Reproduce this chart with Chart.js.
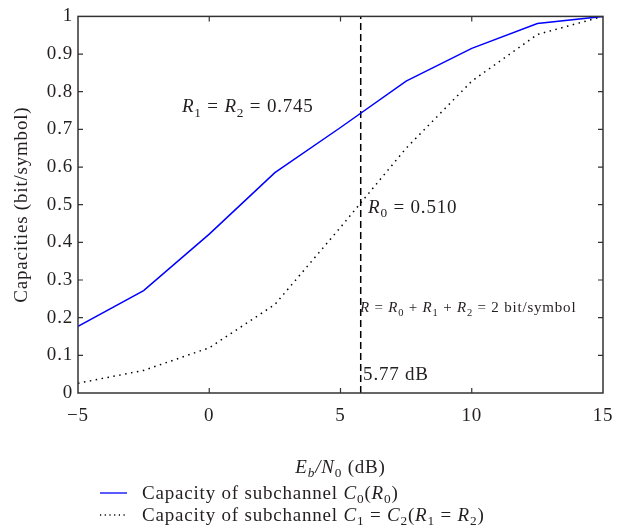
<!DOCTYPE html>
<html>
<head>
<meta charset="utf-8">
<script src="https://cdn.jsdelivr.net/npm/chart.js@4.4.0/dist/chart.umd.min.js"></script>
<style>
  html, body { margin: 0; padding: 0; background: #fff; }
  #wrap { width: 623px; height: 529px; }
</style>
</head>
<body>
<div id="wrap"><canvas id="capacity_graph"></canvas></div>
<script>
// Eb/N0 (dB) sample points
const snr = [-5, -2.5, 0, 2.5, 5, 7.5, 10, 12.5, 15]
// capacity of subchannel C0 (solid blue)
const capC0 = [0.177, 0.272, 0.422, 0.585, 0.705, 0.828, 0.915, 0.981, 1.0]
// capacity of subchannel C1 = C2 (dotted)
const capC1 = [0.026, 0.06, 0.12, 0.235, 0.44, 0.65, 0.828, 0.952, 1.0]
const xTicks = [-5, 0, 5, 10, 15]
const yTicks = [0, 0.1, 0.2, 0.3, 0.4, 0.5, 0.6, 0.7, 0.8, 0.9, 1]
const threshold = 5.77
const rateR0 = 0.510
const rateR1 = 0.745

const serif = '"Liberation Serif", "DejaVu Serif", serif'
const ink = '#231f20'
const spacing = '0.8px'

// draws text made of pieces: 'i' italic, 's' subscript
function rich(ctx, x, y, parts, size, align) {
    let w = 0
    const pieces = parts.map(([t, st]) => {
        const sub = st.includes('s')
        const fs = sub ? size * 0.7 : size
        const font = (st.includes('i') ? 'italic ' : '') + fs + 'px ' + serif
        ctx.font = font
        const tw = ctx.measureText(t).width
        w += tw
        return {t, font, tw, dy: sub ? size * 0.22 : 0}
    })
    if (align === 'center') x -= w / 2
    ctx.textAlign = 'left'
    ctx.textBaseline = 'alphabetic'
    for (const p of pieces) {
        ctx.font = p.font
        ctx.fillText(p.t, x, y + p.dy)
        x += p.tw
    }
}

// wider type, closer to the original figure's font
const spacingPlugin = {
    id: 'spacing',
    beforeLayout(chart) { chart.ctx.letterSpacing = spacing },
    beforeDraw(chart) { chart.ctx.letterSpacing = spacing }
}

const framePlugin = {
    id: 'frame',
    afterDraw(chart) {
        const ctx = chart.ctx
        const a = chart.chartArea
        const xs = chart.scales.x, ys = chart.scales.y
        ctx.save()
        ctx.letterSpacing = spacing
        ctx.strokeStyle = '#333'
        ctx.lineWidth = 1.5
        ctx.strokeRect(a.left, a.top, a.right - a.left, a.bottom - a.top)
        ctx.lineWidth = 1.2
        ctx.beginPath()
        xTicks.slice(1, -1).forEach(v => {
            const px = xs.getPixelForValue(v)
            ctx.moveTo(px, a.bottom); ctx.lineTo(px, a.bottom - 5)
            ctx.moveTo(px, a.top); ctx.lineTo(px, a.top + 5)
        })
        yTicks.slice(1, -1).forEach(v => {
            const py = ys.getPixelForValue(v)
            ctx.moveTo(a.left, py); ctx.lineTo(a.left + 5, py)
            ctx.moveTo(a.right, py); ctx.lineTo(a.right - 5, py)
        })
        ctx.stroke()

        ctx.fillStyle = ink
        const P = (x, y) => [xs.getPixelForValue(x), ys.getPixelForValue(y)]
        let [x, y] = P(-1.04, rateR1)
        rich(ctx, x, y, [['R', 'i'], ['1', 's'], [' = ', ''], ['R', 'i'], ['2', 's'], [' = ' + rateR1.toFixed(3), '']], 19)
        ;[x, y] = P(6.05, 0.479)
        rich(ctx, x, y, [['R', 'i'], ['0', 's'], [' = ' + rateR0.toFixed(3), '']], 19)
        ;[x, y] = P(5.74, 0.214)
        rich(ctx, x, y, [['R', 'i'], [' = ', ''], ['R', 'i'], ['0', 's'], [' + ', ''], ['R', 'i'], ['1', 's'],
            [' + ', ''], ['R', 'i'], ['2', 's'], [' = 2 bit/symbol', '']], 15)
        ;[x, y] = P(5.86, 0.034)
        rich(ctx, x, y, [[threshold.toFixed(2) + ' dB', '']], 19)

        // x axis title
        rich(ctx, (a.left + a.right) / 2, 473, [['E', 'i'], ['b', 'is'], ['/', 'i'], ['N', 'i'], ['0', 's'], [' (dB)', '']], 19, 'center')

        // legend
        ctx.strokeStyle = '#0000ff'
        ctx.lineWidth = 1.3
        ctx.beginPath(); ctx.moveTo(100, 493); ctx.lineTo(127, 493); ctx.stroke()
        ctx.strokeStyle = '#000'
        ctx.setLineDash([1.2, 3.5])
        ctx.beginPath(); ctx.moveTo(100, 515); ctx.lineTo(127, 515); ctx.stroke()
        ctx.setLineDash([])
        rich(ctx, 142, 499, [['Capacity of subchannel ', ''], ['C', 'i'], ['0', 's'], ['(', ''], ['R', 'i'], ['0', 's'], [')', '']], 19)
        rich(ctx, 142, 521, [['Capacity of subchannel ', ''], ['C', 'i'], ['1', 's'], [' = ', ''], ['C', 'i'], ['2', 's'],
            ['(', ''], ['R', 'i'], ['1', 's'], [' = ', ''], ['R', 'i'], ['2', 's'], [')', '']], 19)
        ctx.restore()
    }
}

const data = {
    datasets: [{
        label: 'Capacity of subchannel C0(R0)',
        data: snr.map((v, i) => ({x: v, y: capC0[i]})),
        borderColor: '#0000ff',
        borderWidth: 1.5,
        pointRadius: 0,
        tension: 0,
    },
    {
        label: 'Capacity of subchannel C1 = C2(R1 = R2)',
        data: snr.map((v, i) => ({x: v, y: capC1[i]})),
        borderColor: '#000',
        borderWidth: 1.5,
        borderDash: [1.5, 4.5],
        pointRadius: 0,
        tension: 0,
    },
    {
        label: 'threshold',
        data: [{x: threshold, y: 0}, {x: threshold, y: 1}],
        borderColor: '#000',
        borderWidth: 1.5,
        borderDash: [7, 4],
        pointRadius: 0,
    }]
}

const config = {
    type: 'line',
    data: data,
    options: {
        responsive: true,
        maintainAspectRatio: false,
        animation: false,
        layout: { padding: { top: 15, right: 20, left: 0, bottom: 0 } },
        plugins: {
            legend: { display: false },
            tooltip: { enabled: false }
        },
        scales: {
            x: {
                type: 'linear',
                min: -5,
                max: 15,
                afterBuildTicks: s => { s.ticks = xTicks.map(v => ({value: v})) },
                afterFit: s => { s.height = 136 },
                grid: { display: false },
                border: { display: false },
                ticks: {
                    color: ink,
                    padding: 4,
                    maxRotation: 0,
                    font: { family: serif, size: 19 },
                    callback: v => v < 0 ? '\u2212' + Math.abs(v) : String(v)
                }
            },
            y: {
                min: 0,
                max: 1,
                afterBuildTicks: s => { s.ticks = yTicks.map(v => ({value: v})) },
                afterFit: s => { s.width = 78 },
                grid: { display: false, drawTicks: false },
                border: { display: false },
                title: {
                    display: true,
                    text: 'Capacities (bit/symbol)',
                    color: ink,
                    font: { family: serif, size: 19 },
                    padding: { top: 11, bottom: 0 }
                },
                ticks: {
                    color: ink,
                    padding: 5,
                    font: { family: serif, size: 19 },
                    callback: v => (v === 0 || v === 1) ? String(v) : v.toFixed(1)
                }
            }
        }
    },
    plugins: [spacingPlugin, framePlugin]
}

const capacity_graph = new Chart(document.getElementById('capacity_graph'), config)
</script>
</body>
</html>
